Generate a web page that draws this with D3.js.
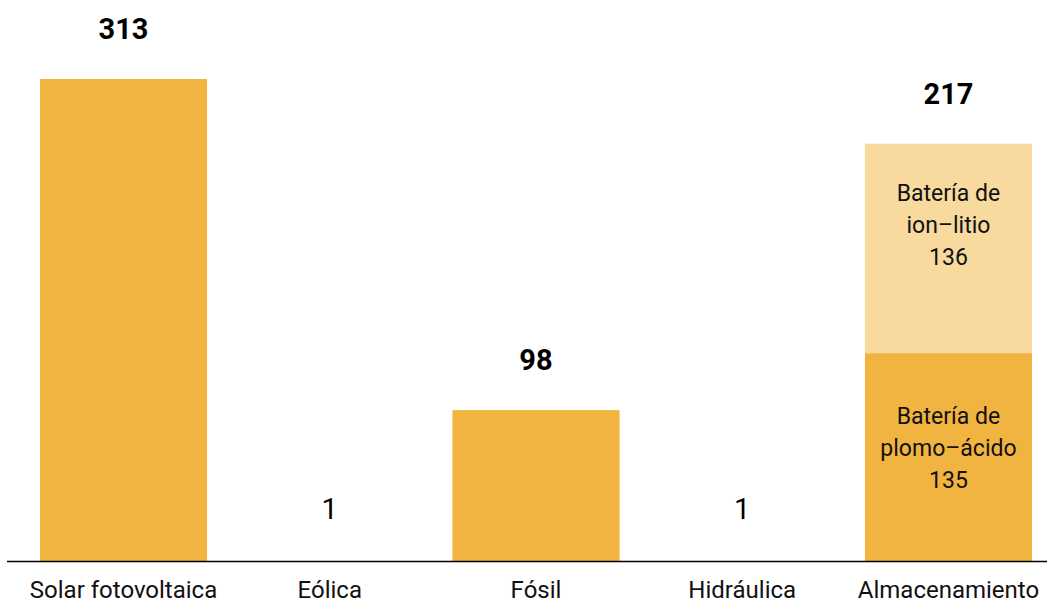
<!DOCTYPE html>
<html>
<head>
<meta charset="utf-8">
<script src="https://cdn.jsdelivr.net/npm/d3@7"></script>
<style>
  body { margin: 0; background: #fff; }
  svg { font-family: "Roboto", "Noto Sans", sans-serif; }
</style>
</head>
<body>
<svg id="chart" width="1047" height="605"></svg>
<script>
const categories = ["Solar fotovoltaica", "Eólica", "Fósil", "Hidráulica", "Almacenamiento"];
const values = [313, 1, 98, 1, 0];
const totalLabels = ["313", "1", "98", "1", "217"];

// stacked pieces of the storage bar (bottom to top)
const storageNames = ["Batería de|plomo–ácido", "Batería de|ion–litio"];
const storageValues = [135, 136];

const svg = d3.select("#chart");
const width = +svg.attr("width");

const x = d3.scaleBand()
    .domain(categories)
    .range([40, 1032])
    .paddingInner(0.19)
    .paddingOuter(0);

const y = d3.scaleLinear()
    .domain([0, 313])
    .range([561, 79]);

const dark = "#F2B440";
const light = "#F8DA9F";

// simple bars (the 1-unit bars vanish under the baseline)
svg.selectAll("rect.bar")
    .data(categories.map((c, i) => ({ c, v: values[i] })).filter(d => d.v > 1))
    .enter()
    .append("rect")
    .attr("class", "bar")
    .attr("x", d => x(d.c))
    .attr("y", d => y(d.v))
    .attr("width", x.bandwidth())
    .attr("height", d => y(0) - y(d.v))
    .attr("fill", dark);

// stacked storage bar
let acc = 0;
const segs = storageValues.map((v, i) => {
    const s = { name: storageNames[i], v, y0: acc, y1: acc + v, i };
    acc += v;
    return s;
});
const storageTotal = acc;

svg.selectAll("rect.seg")
    .data(segs)
    .enter()
    .append("rect")
    .attr("class", "seg")
    .attr("x", x("Almacenamiento"))
    .attr("y", d => y(d.y1))
    .attr("width", x.bandwidth())
    .attr("height", d => y(d.y0) - y(d.y1))
    .attr("fill", d => d.i === 0 ? dark : light);

const segShift = [-9, -23];
segs.forEach(d => {
    const lines = d.name.split("|").concat([String(d.v)]);
    const cy = (y(d.y0) + y(d.y1)) / 2 + segShift[d.i];
    const t = svg.append("text")
        .attr("text-anchor", "middle")
        .attr("font-size", 23)
        .attr("fill", "#111");
    lines.forEach((l, k) => {
        t.append("tspan")
            .attr("x", x("Almacenamiento") + x.bandwidth() / 2)
            .attr("y", cy + (k - 1) * 32 + 8)
            .text(l);
    });
});

// total labels
svg.selectAll("text.total")
    .data(categories)
    .enter()
    .append("text")
    .attr("class", "total")
    .attr("x", d => x(d) + x.bandwidth() / 2)
    .attr("y", (d, i) => y(i === 4 ? storageTotal : values[i]) - 40)
    .attr("text-anchor", "middle")
    .attr("font-size", 29)
    .attr("font-weight", (d, i) => values[i] === 1 ? 400 : 700)
    .attr("fill", "#000")
    .text((d, i) => totalLabels[i]);

// baseline
svg.append("line")
    .attr("x1", 7)
    .attr("x2", width)
    .attr("y1", y(0) + 0.5)
    .attr("y2", y(0) + 0.5)
    .attr("stroke", "#000")
    .attr("stroke-width", 1.5);

// category labels
svg.selectAll("text.cat")
    .data(categories)
    .enter()
    .append("text")
    .attr("class", "cat")
    .attr("x", d => x(d) + x.bandwidth() / 2)
    .attr("y", 598)
    .attr("text-anchor", "middle")
    .attr("font-size", 24)
    .attr("fill", "#111")
    .text(d => d);
</script>
</body>
</html>
